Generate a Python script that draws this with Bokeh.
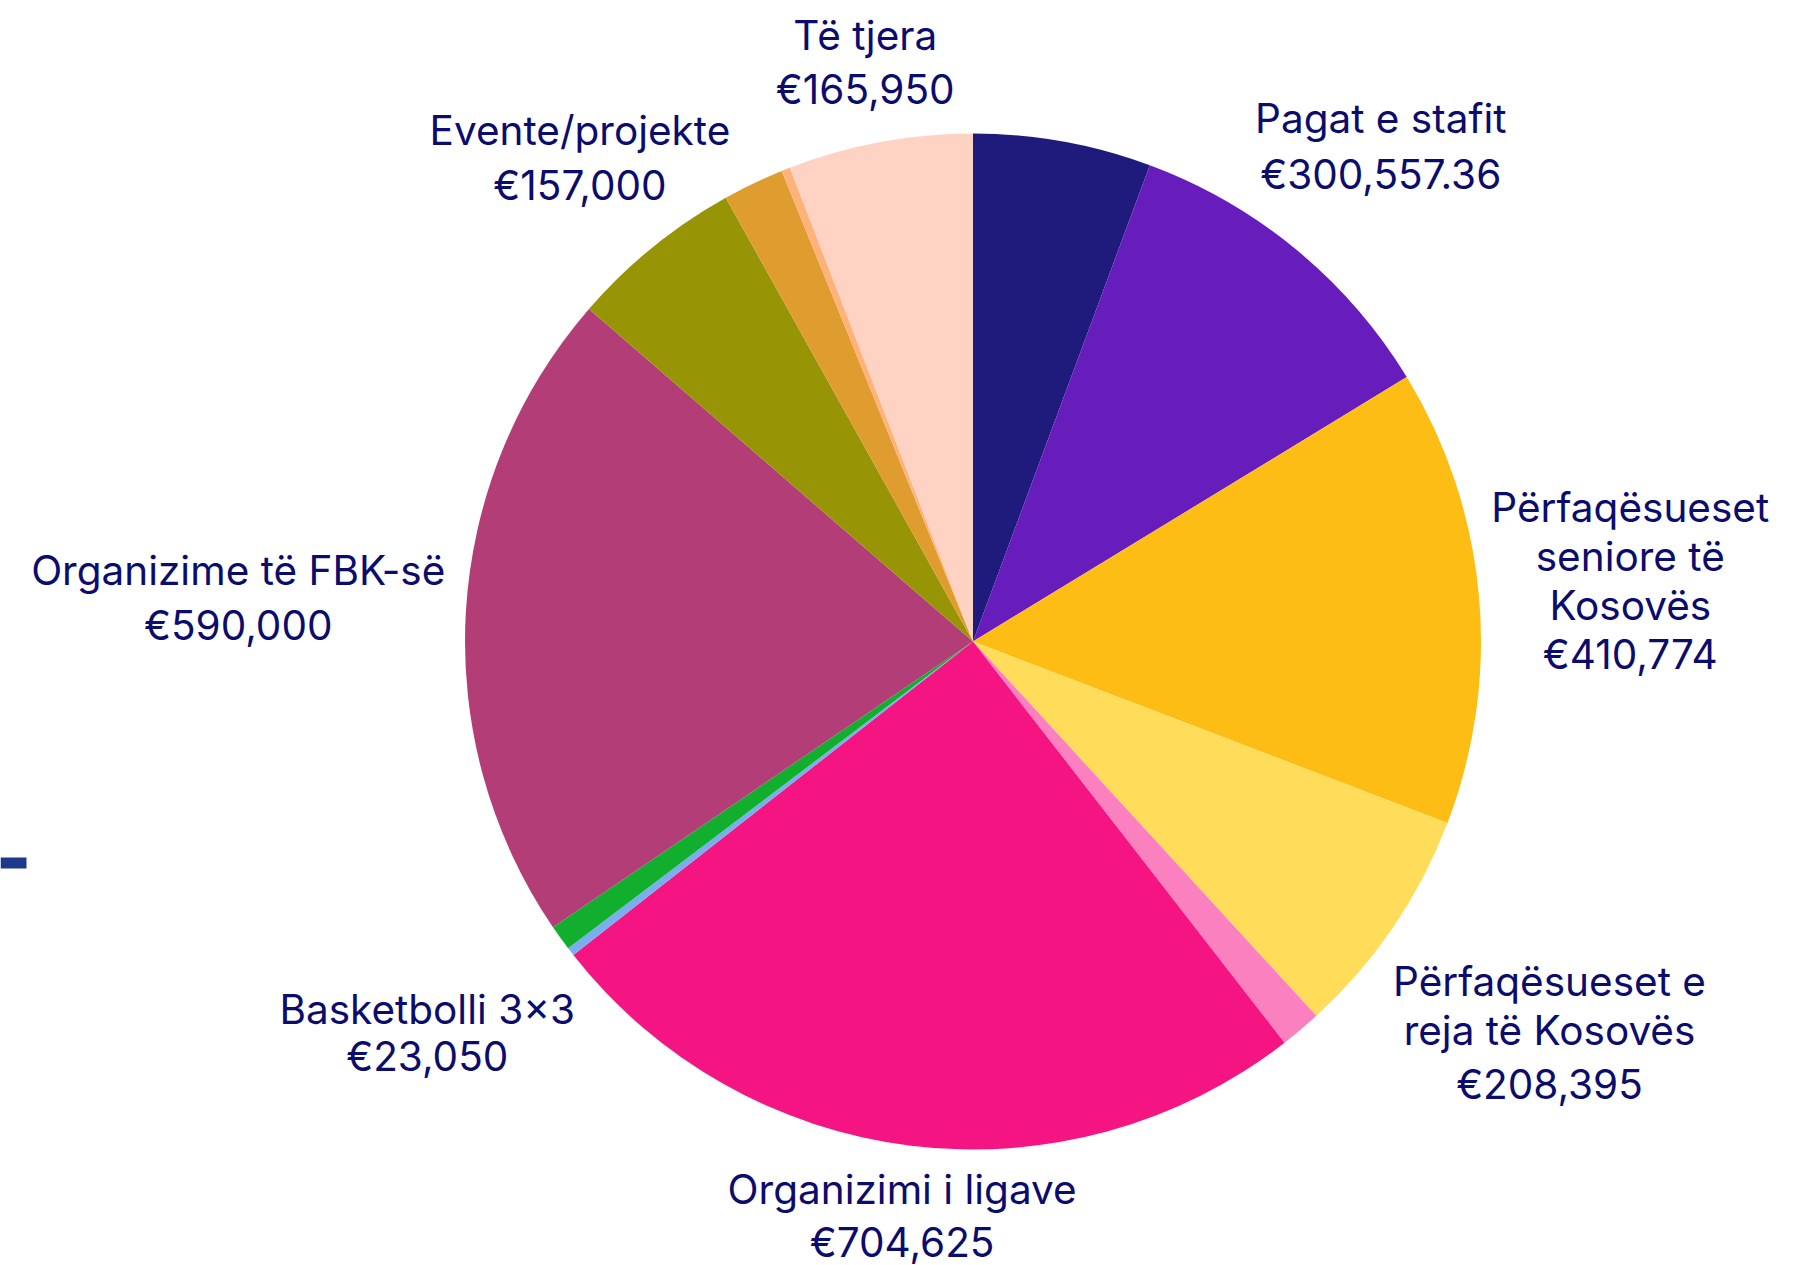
import numpy as np
from bokeh.plotting import figure
from bokeh.models import Range1d, ColumnDataSource
from bokeh.core.properties import value
from bokeh.embed import file_html
from bokeh.resources import INLINE

# ---------------- data ----------------
categories = ["", "Pagat e stafit", "Përfaqësueset\nseniore të\nKosovës",
              "Përfaqësueset e\nreja të Kosovës", "", "Organizimi i ligave", "",
              "Basketbolli 3×3", "Organizime të FBK-së", "Evente/projekte", "", "",
              "Të tjera"]
amounts = [160000, 300557.36, 410774, 208395, 37000, 704625, 7500,
           23050, 590000, 157000, 55000, 7800, 165950]
show_label = [False, True, True, True, False, True, False,
              True, True, True, False, False, True]
colors = ["#1e1b7d", "#661dbc", "#febd14", "#ffdd5b", "#fb80bf", "#f41482", "#7aaef0",
          "#12af2e", "#b33e77", "#979406", "#df9d2f", "#ffb37b", "#ffd3c4"]

# ---------------- layout ----------------
W, H = 1798, 1265
CX, CY, R = 972.5, 641.0, 508.0          # screen px (page coords)
label_dist = [0, 641, 660, 697, 0, 579, 0, 672, 736, 623, 0, 0, 588]
value_gap = [0, 56, 49, 54, 0, 53, 0, 47, 55, 55, 0, 0, 54]
LINE = 49
CAP = 27
TEXT_DY = -14
FONT = "40.5px"
TXT = "#0b0c6c"


def to_data(sx, sy):
    return sx, H - sy


amounts_arr = np.array(amounts, dtype=float)
total = amounts_arr.sum()
cum = np.concatenate([[0], np.cumsum(amounts_arr)])
start = np.pi / 2 - 2 * np.pi * cum[:-1] / total
end = np.pi / 2 - 2 * np.pi * cum[1:] / total

cx, cy = to_data(CX, CY)
wedges = ColumnDataSource(dict(x=[cx] * len(amounts), y=[cy] * len(amounts),
                               start=start, end=end, color=colors))


def fmt(v):
    if abs(v - round(v)) > 1e-9:
        return "€{:,.2f}".format(v)
    return "€{:,.0f}".format(v)


tx, ty, tt = [], [], []
for i, name in enumerate(categories):
    if not show_label[i]:
        continue
    mid = np.pi * (cum[i] + cum[i + 1]) / total   # clockwise from north
    bx = CX + label_dist[i] * np.sin(mid)
    by = CY - label_dist[i] * np.cos(mid)
    lines = name.split("\n")
    n = len(lines)
    span = LINE * (n - 1) + value_gap[i]
    b0 = by + CAP / 2 - span / 2 + TEXT_DY
    for k, ln in enumerate(lines):
        x_, y_ = to_data(bx, b0 + LINE * k)
        tx.append(x_); ty.append(y_); tt.append(ln)
    x_, y_ = to_data(bx, b0 + LINE * (n - 1) + value_gap[i])
    tx.append(x_); ty.append(y_); tt.append(fmt(amounts[i]))

labels = ColumnDataSource(dict(x=tx, y=ty, text=tt))

p = figure(width=W, height=H, output_backend="svg", toolbar_location=None,
           x_range=Range1d(0, W), y_range=Range1d(0, H), min_border=0)
p.axis.visible = False
p.grid.visible = False
p.outline_line_color = None
p.background_fill_color = "white"

p.wedge(x="x", y="y", radius=R, start_angle="start", end_angle="end",
        direction="clock", fill_color="color", line_color=None, source=wedges)

p.text(x="x", y="y", text="text", source=labels, text_font=value("Inter"),
       text_font_size=FONT, text_align="center", text_baseline="alphabetic",
       text_color=TXT)

# small legend-like dash at the left edge
dl, db = to_data(0, 868)
dr, dt = to_data(26, 857)
p.quad(left=dl, right=dr, bottom=db, top=dt, fill_color="#1d3a8a", line_color=None)

open("out.html", "w").write(file_html(p, INLINE))
